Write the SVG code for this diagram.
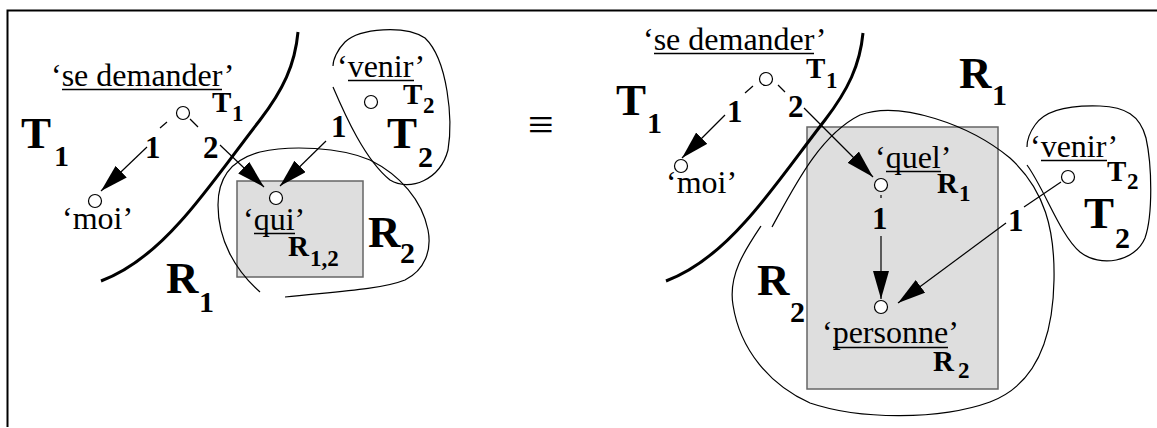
<svg xmlns="http://www.w3.org/2000/svg" width="1157" height="428" viewBox="0 0 1157 428">
<style>
text{font-family:"Liberation Serif","Times New Roman",serif;fill:#000}
.w{font-size:32px}
.b{font-weight:bold;font-size:31px}
.big{font-weight:bold;font-size:45px}
.bs{font-weight:bold;font-size:30px}
.sl{font-weight:bold;font-size:29px}
.ss{font-weight:bold;font-size:23px}
.ul{stroke:#000;stroke-width:1.5}
.thick{fill:none;stroke:#000;stroke-width:3}
.reg{fill:none;stroke:#000;stroke-width:1.2}
.edge{fill:none;stroke:#000;stroke-width:1.2}
.arr{fill:none;stroke:#000;stroke-width:1.2;marker-end:url(#ah)}
.nd{fill:#fff;stroke:#000;stroke-width:1.2}
.box{fill:#dedede;stroke:#666;stroke-width:1.5}
</style>
<defs>
<marker id="ah" markerUnits="userSpaceOnUse" markerWidth="30" markerHeight="18" refX="28" refY="8" orient="auto">
<path d="M0,0 L28,8 L0,16 Z" fill="#000"/>
</marker>
</defs>
<rect width="1157" height="428" fill="#fff"/>
<path d="M7.5,427 L7.5,10.5 L1157,10.5" fill="none" stroke="#000" stroke-width="2"/>

<g id="regions">
<rect class="box" x="237" y="181" width="126" height="96"/>
<rect class="box" x="807" y="127" width="191" height="262"/>
<path class="thick" d="M298,32 C295,65 283,90 260,120 C235,152 205,195 180,222 C155,250 130,270 101,281"/>
<path class="thick" d="M863,33 C860,65 848,90 825,120 C800,152 770,195 745,222 C720,250 695,270 666,281"/>
<path class="reg" d="M285,297 C330,292 380,290 405,280 C425,270 432,250 428,230 C422,200 400,175 370,160 C340,147 290,145 260,152 C230,160 218,180 218,205 C218,240 235,270 260,292"/>
<path class="reg" d="M333,87 C345,115 365,160 390,180 C410,192 440,180 448,150 C453,120 448,60 425,38 C405,25 360,28 345,42 C337,50 333,60 333,66"/>
<path class="reg" d="M772,227 C795,185 820,135 860,115 C900,100 970,125 1010,158 C1045,190 1055,230 1054,280 C1053,340 1035,385 990,402 C940,420 860,420 810,403 C770,385 740,350 733,305 C728,275 745,250 761,226"/>
<path class="reg" d="M1027,165 C1045,190 1060,235 1080,252 C1100,268 1135,262 1145,238 C1153,215 1152,165 1146,138 C1140,115 1125,107 1100,106 C1070,105 1045,110 1035,125 C1030,132 1027,140 1027,147"/>
</g>

<g id="connectors">
<line class="edge" x1="167" y1="122" x2="160" y2="128"/>
<line class="arr" x1="147" y1="147" x2="101" y2="191"/>
<line class="edge" x1="190" y1="119" x2="198" y2="127"/>
<line class="arr" x1="220" y1="145" x2="264" y2="187"/>
<line class="arr" x1="326" y1="141" x2="280" y2="186"/>
<line class="edge" x1="753" y1="86" x2="745" y2="93"/>
<line class="arr" x1="725" y1="115" x2="682" y2="158"/>
<line class="edge" x1="778" y1="85" x2="785" y2="92"/>
<line class="arr" x1="804" y1="108" x2="873" y2="177"/>
<line class="edge" x1="881" y1="195" x2="881" y2="198"/>
<line class="arr" x1="881" y1="236" x2="881" y2="299"/>
<line class="edge" x1="1061" y1="182" x2="1024" y2="207"/>
<line class="arr" x1="1006" y1="223" x2="898" y2="303"/>
</g>

<g id="labels-left">
<text class="b" x="145" y="158">1</text>
<text class="b" x="203" y="158">2</text>
<text class="b" x="331" y="137">1</text>
<text class="big" x="21" y="148">T</text><text class="bs" x="54" y="166">1</text>
<text class="big" x="387" y="148">T</text><text class="bs" x="418" y="167">2</text>
<text class="big" x="368" y="247">R</text><text class="bs" x="400" y="263">2</text>
<text class="big" x="166" y="293">R</text><text class="bs" x="199" y="312">1</text>
</g>

<g id="node-sedemander-left">
<circle class="nd" cx="183" cy="113" r="6.5"/>
<text class="w" x="51" y="86">‘se demander’</text>
<line class="ul" x1="62" y1="89.5" x2="222" y2="89.5"/>
<text class="sl" x="212" y="112">T</text><text class="ss" x="232" y="121">1</text>
</g>
<g id="node-moi-left">
<circle class="nd" cx="95" cy="201" r="6.5"/>
<text class="w" x="62" y="229">‘moi’</text>
</g>
<g id="node-qui-left">
<circle class="nd" cx="276" cy="198" r="6.5"/>
<text class="w" x="243" y="230">‘qui’</text>
<line class="ul" x1="254" y1="233.5" x2="295" y2="233.5"/>
<text class="sl" x="288" y="256">R</text><text class="ss" x="310" y="266">1,2</text>
</g>
<g id="node-venir-left">
<circle class="nd" cx="371" cy="102" r="6.5"/>
<text class="w" x="337" y="77">‘venir’</text>
<line class="ul" x1="348" y1="80.5" x2="414" y2="80.5"/>
<text class="sl" x="403" y="104">T</text><text class="ss" x="423" y="113">2</text>
</g>

<g id="equiv">
<text x="541" y="140" text-anchor="middle" style="font-size:46px">≡</text>
</g>

<g id="labels-right">
<text class="b" x="727" y="122">1</text>
<text class="b" x="788" y="117">2</text>
<text class="b" x="872" y="229">1</text>
<text class="b" x="1008" y="231">1</text>
<text class="big" x="616" y="115">T</text><text class="bs" x="647" y="133">1</text>
<text class="big" x="959" y="88">R</text><text class="bs" x="992" y="105">1</text>
<text class="big" x="1084" y="228">T</text><text class="bs" x="1115" y="248">2</text>
<text class="big" x="757" y="295">R</text><text class="bs" x="790" y="322">2</text>
</g>

<g id="node-sedemander-right">
<circle class="nd" cx="766" cy="79" r="6.5"/>
<text class="w" x="643" y="50">‘se demander’</text>
<line class="ul" x1="654" y1="53.5" x2="814" y2="53.5"/>
<text class="sl" x="806" y="78">T</text><text class="ss" x="826" y="88">1</text>
</g>
<g id="node-moi-right">
<circle class="nd" cx="681" cy="166" r="6.5"/>
<text class="w" x="666" y="193">‘moi’</text>
</g>
<g id="node-quel-right">
<circle class="nd" cx="881" cy="185" r="6.5"/>
<text class="w" x="875" y="168">‘quel’</text>
<line class="ul" x1="886" y1="171.5" x2="941" y2="171.5"/>
<text class="sl" x="937" y="193">R</text><text class="ss" x="959" y="201">1</text>
</g>
<g id="node-personne-right">
<circle class="nd" cx="881" cy="307" r="6.5"/>
<text class="w" x="822" y="343">‘personne’</text>
<line class="ul" x1="833" y1="347.5" x2="948" y2="347.5"/>
<text class="sl" x="933" y="371">R</text><text class="ss" x="958" y="378">2</text>
</g>
<g id="node-venir-right">
<circle class="nd" cx="1068" cy="177" r="6.5"/>
<text class="w" x="1030" y="157">‘venir’</text>
<line class="ul" x1="1041" y1="160.5" x2="1107" y2="160.5"/>
<text class="sl" x="1107" y="181">T</text><text class="ss" x="1127" y="189">2</text>
</g>
</svg>
